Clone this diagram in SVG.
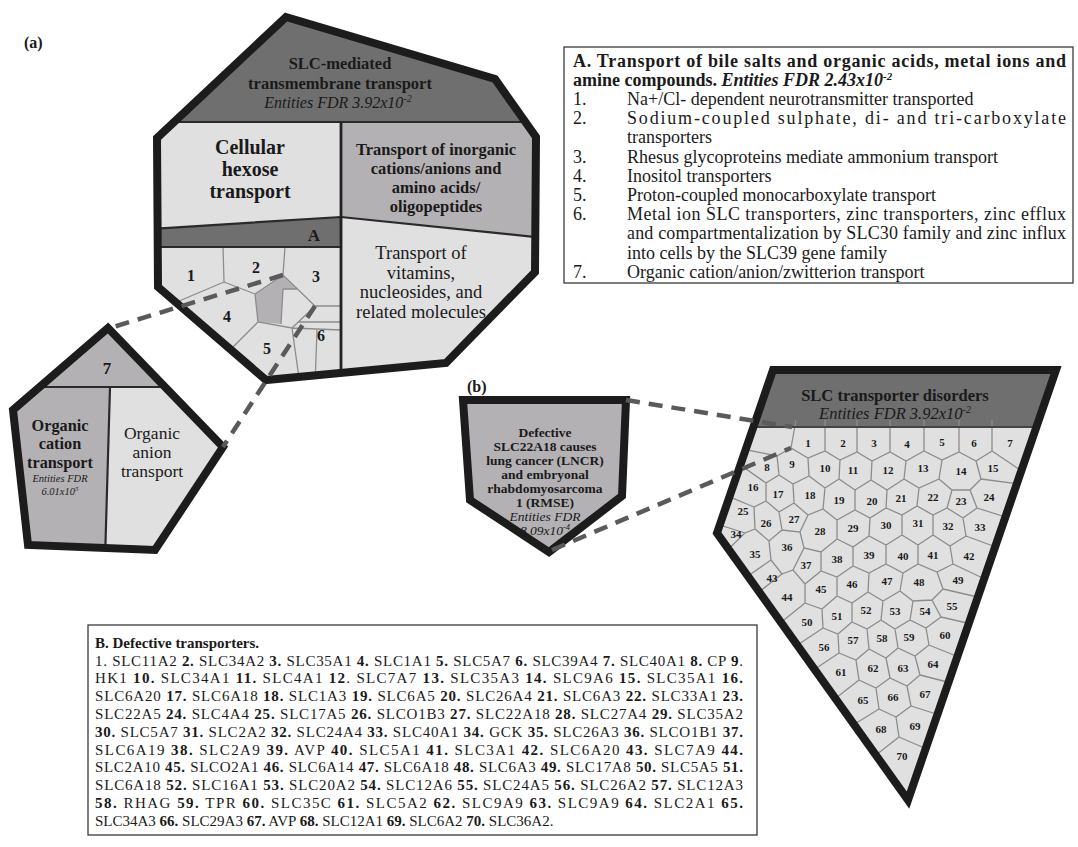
<svg xmlns="http://www.w3.org/2000/svg" width="1078" height="847" viewBox="0 0 1078 847">
<defs>
<style>
text{font-family:'Liberation Serif','Times New Roman',serif;fill:#1a1a1a}
.b{font-weight:bold}
.i{font-style:italic}
.outline{fill:none;stroke:#1c1c1c;stroke-width:8;stroke-linejoin:miter}
.dark{fill:#6f6f6f}
.mid{fill:#b4b1b4}
.light{fill:#e0e0e0}
.cell{fill:none;stroke:#8c8c8c;stroke-width:1.3}
.div{fill:none;stroke:#2a2a2a;stroke-width:2.2}
.num{font-size:11px;font-weight:bold;text-anchor:middle;dominant-baseline:central}
.hnum{font-size:16px;font-weight:bold;text-anchor:middle;dominant-baseline:central}
.dash{fill:none;stroke:#5a5a5a;stroke-width:4.5;stroke-dasharray:14 9}
.box{fill:#fff;stroke:#3a3a3a;stroke-width:1.3}
.mid-t{text-anchor:middle}
</style>
<clipPath id="clipHex"><polygon points="286,17 495,79 536,137 535,272 446,363 266,380 158,287 157,138"/></clipPath>
<clipPath id="clipPent"><polygon points="108,328 223,447 155,550 28,545 13,410"/></clipPath>
<clipPath id="clipTri"><polygon points="773,370 1056,370 908,800 717,533"/></clipPath>
</defs>
<rect width="1078" height="847" fill="#fff"/>

<text x="24" y="48" class="b" font-size="16">(a)</text>
<text x="467" y="392" class="b" font-size="16">(b)</text>

<g id="node-slc-transmembrane">
<g clip-path="url(#clipHex)">
<rect x="150" y="10" width="400" height="112" class="dark"/>
<polygon points="150,122 341,122 341,217 150,229" class="light"/>
<polygon points="150,229 341,217 341,247 150,247" class="dark"/>
<rect x="150" y="247" width="191" height="140" class="light"/>
<polygon points="341,122 545,122 545,238 341,217" class="mid"/>
<polygon points="341,217 545,238 545,390 341,390" class="light"/>
<polygon points="255,294 283,275 298,289 283,289 281,324 258,322" class="mid"/>
<path class="cell" d="M223,247 L224,282 M224,282 L165,307 M224,282 L255,294 M285,247 L283,275 M255,294 L283,275 L315,306 L292,328 L258,322 Z M283,289 L298,289 M283,289 L281,324 M315,306 L341,306 M258,322 L226,354 M292,328 L300,385 M298,322 L341,322 M292,328 L341,330 M317,330 L315,385"/>
<path class="div" d="M150,122 L545,122 M150,229 L341,217 L545,238 M150,247 L341,247"/>
<path d="M341,122 L341,390" fill="none" stroke="#222" stroke-width="2.8"/>
</g>
<polygon class="outline" points="286,17 495,79 536,137 535,272 446,363 266,380 158,287 157,138"/>
<text x="340" y="69" class="b mid-t" font-size="16.5">SLC-mediated</text>
<text x="340" y="89" class="b mid-t" font-size="16.5">transmembrane transport</text>
<text x="338" y="108" class="i mid-t" font-size="16" fill="#222">Entities FDR 3.92x10<tspan dy="-6" font-size="10">-2</tspan></text>
<text x="250" y="154" class="b mid-t" font-size="20">Cellular</text>
<text x="250" y="176" class="b mid-t" font-size="20">hexose</text>
<text x="250" y="198" class="b mid-t" font-size="20">transport</text>
<text x="436" y="155" class="b mid-t" font-size="16.5">Transport of inorganic</text>
<text x="436" y="174" class="b mid-t" font-size="16.5">cations/anions and</text>
<text x="436" y="193" class="b mid-t" font-size="16.5">amino acids/</text>
<text x="436" y="212" class="b mid-t" font-size="16.5">oligopeptides</text>
<text x="421" y="259" class="mid-t" font-size="18.5">Transport of</text>
<text x="421" y="279" class="mid-t" font-size="18.5">vitamins,</text>
<text x="421" y="298" class="mid-t" font-size="18.5">nucleosides, and</text>
<text x="421" y="318" class="mid-t" font-size="18.5">related molecules</text>
<text x="314" y="235" class="b mid-t" font-size="17" dominant-baseline="central">A</text>
<text x="191" y="275" class="hnum">1</text>
<text x="256" y="267" class="hnum">2</text>
<text x="316" y="276" class="hnum">3</text>
<text x="227" y="316" class="hnum">4</text>
<text x="267" y="348" class="hnum">5</text>
<text x="321" y="335" class="hnum">6</text>
</g>

<g id="node-organic-transport">
<g clip-path="url(#clipPent)">
<rect x="0" y="300" width="240" height="87" class="mid"/>
<polygon points="0,387 110,387 105,560 0,560" class="mid"/>
<polygon points="110,387 240,387 240,560 105,560" class="light"/>
<path class="div" d="M0,387 L240,387 M110,387 L105,560"/>
</g>
<polygon class="outline" points="108,328 223,447 155,550 28,545 13,410"/>
<text x="107" y="368" class="b mid-t" font-size="17" dominant-baseline="central">7</text>
<text x="60" y="431" class="b mid-t" font-size="16.3">Organic</text>
<text x="60" y="449" class="b mid-t" font-size="16.3">cation</text>
<text x="60" y="468" class="b mid-t" font-size="16.3">transport</text>
<text x="60" y="482" class="i mid-t" font-size="10.5" fill="#333">Entities FDR</text>
<text x="60" y="495" class="i mid-t" font-size="10.5" fill="#333">6.01x10<tspan dy="-4" font-size="7">5</tspan></text>
<text x="152" y="439" class="mid-t" font-size="17.5">Organic</text>
<text x="152" y="458" class="mid-t" font-size="17.5">anion</text>
<text x="152" y="477" class="mid-t" font-size="17.5">transport</text>
</g>

<g id="node-defective-slc22a18">
<polygon points="463,400 626,400 622,496 549,552 470,500" class="mid"/>
<polygon class="outline" points="463,400 626,400 622,496 549,552 470,500"/>
<text x="545" y="437" class="b mid-t" font-size="13.5">Defective</text>
<text x="545" y="451" class="b mid-t" font-size="13.5">SLC22A18 causes</text>
<text x="545" y="465" class="b mid-t" font-size="13.5">lung cancer (LNCR)</text>
<text x="545" y="479" class="b mid-t" font-size="13.5">and embryonal</text>
<text x="545" y="493" class="b mid-t" font-size="13.5">rhabdomyosarcoma</text>
<text x="545" y="507" class="b mid-t" font-size="13.5">1 (RMSE)</text>
<text x="545" y="521" class="i mid-t" font-size="13.5" fill="#444">Entities FDR</text>
<text x="545" y="535" class="i mid-t" font-size="13.5" fill="#444">8.09x10<tspan dy="-5" font-size="8.5">-4</tspan></text>
</g>

<g id="node-slc-disorders">
<g clip-path="url(#clipTri)">
<rect x="700" y="360" width="370" height="450" class="light"/>
<rect x="700" y="360" width="370" height="67" class="dark"/>
<path class="cell" d="M777,456 L791,448 L808,458 L825,451 L840,460 L857,452 L872,461 L890,452 L906,461 L924,451 L942,460 L959,452 L976,461 L992,451
M766,483 L779,475 L793,484 L809,476 L825,488 L839,479 L855,490 L871,480 L887,490 L904,479 L919,488 L939,479 L952,490 L970,490 L981,479
M754,507 L766,501 L779,512 L794,503 L808,515 L823,509 L837,520 L855,510 L870,518 L886,508 L902,515 L917,506 L933,515 L947,508 L963,518 L977,508
M745,533 L755,529 L769,541 L782,530 L800,532 L804,548 L821,552 L837,539 L853,547 L869,536 L886,545 L902,535 L918,545 L933,535 L950,546 L966,536
M771,560 L782,574 L793,570 L805,584 L821,571 L837,577 L853,566 L869,573 L886,564 L903,573 L918,564 L937,572 L953,564
M805,603 L822,609 L837,596 L852,603 L868,592 L883,601 L900,591 L913,601 L932,600 L943,589
M823,628 L838,634 L852,622 L867,629 L881,620 L895,629 L910,620 L926,628 L941,617
M839,653 L856,660 L869,649 L886,658 L898,648 L915,656 L929,645
M859,680 L876,688 L890,678 L907,686 L920,675
M879,709 L896,717 L911,706
M796,420 L791,448 M825,420 L825,451 M857,420 L857,452 M890,420 L890,452 M924,420 L924,451 M959,420 L959,452 M992,420 L992,451
M777,456 L779,475 M808,458 L809,476 M840,460 L839,479 M872,461 L871,480 M906,461 L904,479 M942,460 L939,479 M976,461 L981,479
M766,483 L766,501 M793,484 L794,503 M825,488 L823,509 M855,490 L855,510 M887,490 L886,508 M919,488 L917,506 M952,490 L947,508 M970,490 L977,508
M754,507 L755,529 M779,512 L782,530 M808,515 L800,532 M837,520 L837,539 M870,518 L869,536 M902,515 L902,535 M933,515 L933,535 M963,518 L966,536
M769,541 L771,560 M804,548 L793,570 M821,552 L821,571 M853,547 L853,566 M886,545 L886,564 M918,545 L918,564 M950,546 L953,564
M805,584 L805,603 M837,577 L837,596 M869,573 L868,592 M903,573 L900,591 M937,572 L943,589
M822,609 L823,628 M852,603 L852,622 M883,601 L881,620 M913,601 L910,620 M932,600 L941,617
M838,634 L839,653 M867,629 L869,649 M895,629 L898,648 M926,628 L929,645
M856,660 L859,680 M886,658 L890,678 M915,656 L920,675
M876,688 L879,709 M907,686 L911,706
M896,717 L899,737
M777,456 L733,447 M766,483 L729,457 M754,507 L713,490 M745,533 L707,521 M745,533 L716,561 M771,560 L738,583 M782,574 L750,599 M805,603 L774,628 M823,628 L790,650 M839,653 L806,675 M859,680 L827,705 M879,709 L845,730 M899,737 L867,762
M899,737 L936,753 M911,706 L949,718 M920,675 L959,685 M929,645 L966,660 M941,617 L980,626 M943,589 L982,598 M953,564 L989,581 M966,536 L1004,550 M977,508 L1015,520 M981,479 L1026,485 M992,451 L1029,476"/>
<path d="M700,427 L1070,427" stroke="#444" stroke-width="2" fill="none"/>
</g>
<polygon class="outline" points="773,370 1056,370 908,800 717,533" stroke-width="9"/>
<text x="895" y="401" class="b mid-t" font-size="16.5">SLC transporter disorders</text>
<text x="895" y="419" class="i mid-t" font-size="16.5" fill="#222">Entities FDR 3.92x10<tspan dy="-6" font-size="10">-2</tspan></text>
<g class="nums">
<text x="808" y="443" class="num">1</text><text x="843" y="443" class="num">2</text><text x="874" y="443" class="num">3</text><text x="907" y="444" class="num">4</text><text x="942" y="442" class="num">5</text><text x="974" y="443" class="num">6</text><text x="1010" y="443" class="num">7</text>
<text x="767" y="467" class="num">8</text><text x="792" y="464" class="num">9</text><text x="825" y="468" class="num">10</text><text x="853" y="470" class="num">11</text><text x="888" y="470" class="num">12</text><text x="923" y="468" class="num">13</text><text x="961" y="471" class="num">14</text><text x="993" y="468" class="num">15</text>
<text x="753" y="487" class="num">16</text><text x="778" y="494" class="num">17</text><text x="810" y="495" class="num">18</text><text x="839" y="500" class="num">19</text><text x="872" y="501" class="num">20</text><text x="901" y="498" class="num">21</text><text x="933" y="497" class="num">22</text><text x="961" y="501" class="num">23</text><text x="989" y="497" class="num">24</text>
<text x="743" y="511" class="num">25</text><text x="766" y="523" class="num">26</text><text x="794" y="519" class="num">27</text><text x="820" y="531" class="num">28</text><text x="853" y="528" class="num">29</text><text x="886" y="525" class="num">30</text><text x="918" y="523" class="num">31</text><text x="948" y="526" class="num">32</text><text x="980" y="527" class="num">33</text>
<text x="736" y="534" class="num">34</text><text x="755" y="554" class="num">35</text><text x="787" y="547" class="num">36</text><text x="806" y="565" class="num">37</text><text x="837" y="559" class="num">38</text><text x="869" y="555" class="num">39</text><text x="903" y="556" class="num">40</text><text x="933" y="555" class="num">41</text><text x="969" y="556" class="num">42</text>
<text x="772" y="578" class="num">43</text><text x="787" y="597" class="num">44</text><text x="821" y="589" class="num">45</text><text x="852" y="584" class="num">46</text><text x="887" y="581" class="num">47</text><text x="919" y="582" class="num">48</text><text x="958" y="580" class="num">49</text>
<text x="807" y="622" class="num">50</text><text x="837" y="616" class="num">51</text><text x="866" y="610" class="num">52</text><text x="895" y="611" class="num">53</text><text x="925" y="611" class="num">54</text><text x="952" y="606" class="num">55</text>
<text x="824" y="647" class="num">56</text><text x="853" y="640" class="num">57</text><text x="882" y="638" class="num">58</text><text x="909" y="637" class="num">59</text><text x="945" y="635" class="num">60</text>
<text x="841" y="672" class="num">61</text><text x="873" y="668" class="num">62</text><text x="903" y="668" class="num">63</text><text x="933" y="664" class="num">64</text>
<text x="863" y="700" class="num">65</text><text x="893" y="697" class="num">66</text><text x="925" y="694" class="num">67</text>
<text x="881" y="729" class="num">68</text><text x="915" y="726" class="num">69</text>
<text x="902" y="756" class="num">70</text>
</g>
</g>

<g id="connectors">
<line class="dash" x1="283" y1="275" x2="110" y2="328"/>
<line class="dash" x1="315" y1="306" x2="223" y2="447"/>
<line class="dash" x1="626" y1="400" x2="792" y2="427"/>
<line class="dash" x1="552" y1="550" x2="791" y2="448"/>
</g>

<g id="legend-a" font-size="18">
<rect class="box" x="564" y="47" width="509" height="236"/>
<text x="573" y="67" class="b" textLength="493" lengthAdjust="spacing">A. Transport of bile salts and organic acids, metal ions and</text>
<text x="573" y="86" class="b">amine compounds. <tspan class="i">Entities FDR 2.43x10</tspan><tspan class="i" dy="-6" font-size="11">-2</tspan></text>
<text x="573" y="105">1.</text><text x="627" y="105">Na+/Cl- dependent neurotransmitter transported</text>
<text x="573" y="124">2.</text><text x="627" y="124" textLength="439" lengthAdjust="spacing">Sodium-coupled sulphate, di- and tri-carboxylate</text>
<text x="627" y="143">transporters</text>
<text x="573" y="163">3.</text><text x="627" y="163">Rhesus glycoproteins mediate ammonium transport</text>
<text x="573" y="182">4.</text><text x="627" y="182">Inositol transporters</text>
<text x="573" y="201">5.</text><text x="627" y="201">Proton-coupled monocarboxylate transport</text>
<text x="573" y="220">6.</text><text x="627" y="220" textLength="439" lengthAdjust="spacing">Metal ion SLC transporters, zinc transporters, zinc efflux</text>
<text x="627" y="239" textLength="439" lengthAdjust="spacing">and compartmentalization by SLC30 family and zinc influx</text>
<text x="627" y="259">into cells by the SLC39 gene family</text>
<text x="573" y="278">7.</text><text x="627" y="278">Organic cation/anion/zwitterion transport</text>
</g>

<g id="legend-b" font-size="15">
<rect class="box" x="88" y="625" width="669" height="210"/>
<text x="95" y="648" class="b">B. Defective transporters.</text>
<text x="95" y="665.5" textLength="648" lengthAdjust="spacing">1. SLC11A2 <tspan class="b">2.</tspan> SLC34A2 <tspan class="b">3.</tspan> SLC35A1 <tspan class="b">4.</tspan> SLC1A1 <tspan class="b">5.</tspan> SLC5A7 <tspan class="b">6.</tspan> SLC39A4 <tspan class="b">7.</tspan> SLC40A1 <tspan class="b">8.</tspan> CP <tspan class="b">9</tspan>.</text>
<text x="95" y="683.3" textLength="648" lengthAdjust="spacing">HK1 <tspan class="b">10.</tspan> SLC34A1 <tspan class="b">11.</tspan> SLC4A1 <tspan class="b">12</tspan>. SLC7A7 <tspan class="b">13.</tspan> SLC35A3 <tspan class="b">14.</tspan> SLC9A6 <tspan class="b">15.</tspan> SLC35A1 <tspan class="b">16.</tspan></text>
<text x="95" y="701.1" textLength="648" lengthAdjust="spacing">SLC6A20 <tspan class="b">17.</tspan> SLC6A18 <tspan class="b">18.</tspan> SLC1A3 <tspan class="b">19.</tspan> SLC6A5 <tspan class="b">20.</tspan> SLC26A4 <tspan class="b">21.</tspan> SLC6A3 <tspan class="b">22.</tspan> SLC33A1 <tspan class="b">23.</tspan></text>
<text x="95" y="718.9" textLength="648" lengthAdjust="spacing">SLC22A5 <tspan class="b">24.</tspan> SLC4A4 <tspan class="b">25.</tspan> SLC17A5 <tspan class="b">26.</tspan> SLCO1B3 <tspan class="b">27.</tspan> SLC22A18 <tspan class="b">28.</tspan> SLC27A4 <tspan class="b">29.</tspan> SLC35A2</text>
<text x="95" y="736.7" textLength="648" lengthAdjust="spacing"><tspan class="b">30.</tspan> SLC5A7 <tspan class="b">31.</tspan> SLC2A2 <tspan class="b">32.</tspan> SLC24A4 <tspan class="b">33.</tspan> SLC40A1 <tspan class="b">34.</tspan> GCK <tspan class="b">35.</tspan> SLC26A3 <tspan class="b">36.</tspan> SLCO1B1 <tspan class="b">37.</tspan></text>
<text x="95" y="754.5" textLength="648" lengthAdjust="spacing">SLC6A19 <tspan class="b">38.</tspan> SLC2A9 <tspan class="b">39.</tspan> AVP <tspan class="b">40.</tspan> SLC5A1 <tspan class="b">41.</tspan> SLC3A1 <tspan class="b">42.</tspan> SLC6A20 <tspan class="b">43.</tspan> SLC7A9 <tspan class="b">44.</tspan></text>
<text x="95" y="772.3" textLength="648" lengthAdjust="spacing">SLC2A10 <tspan class="b">45.</tspan> SLCO2A1 <tspan class="b">46.</tspan> SLC6A14 <tspan class="b">47.</tspan> SLC6A18 <tspan class="b">48.</tspan> SLC6A3 <tspan class="b">49.</tspan> SLC17A8 <tspan class="b">50.</tspan> SLC5A5 <tspan class="b">51.</tspan></text>
<text x="95" y="790.1" textLength="648" lengthAdjust="spacing">SLC6A18 <tspan class="b">52.</tspan> SLC16A1 <tspan class="b">53.</tspan> SLC20A2 <tspan class="b">54.</tspan> SLC12A6 <tspan class="b">55.</tspan> SLC24A5 <tspan class="b">56.</tspan> SLC26A2 <tspan class="b">57.</tspan> SLC12A3</text>
<text x="95" y="807.9" textLength="648" lengthAdjust="spacing"><tspan class="b">58.</tspan> RHAG <tspan class="b">59.</tspan> TPR <tspan class="b">60.</tspan> SLC35C <tspan class="b">61.</tspan> SLC5A2 <tspan class="b">62.</tspan> SLC9A9 <tspan class="b">63.</tspan> SLC9A9 <tspan class="b">64.</tspan> SLC2A1 <tspan class="b">65.</tspan></text>
<text x="95" y="825.7">SLC34A3 <tspan class="b">66.</tspan> SLC29A3 <tspan class="b">67.</tspan> AVP <tspan class="b">68.</tspan> SLC12A1 <tspan class="b">69.</tspan> SLC6A2 <tspan class="b">70.</tspan> SLC36A2.</text>
</g>
</svg>
